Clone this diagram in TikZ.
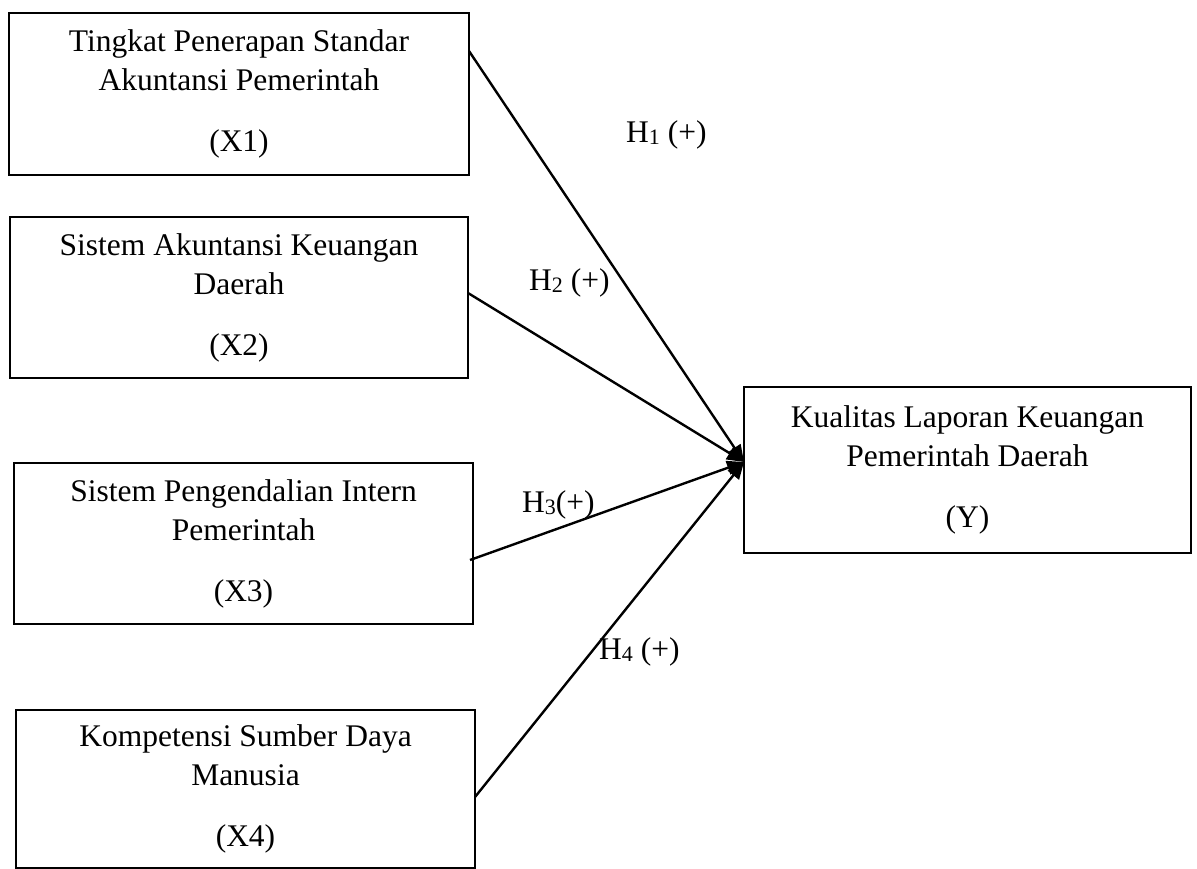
\documentclass[tikz,border=0pt]{standalone}
\usepackage{fontspec}
\setmainfont{Liberation Serif}
\usetikzlibrary{arrows.meta}
\newcommand{\hsub}[1]{\raisebox{-2.5pt}{\fontsize{22}{22}\selectfont #1}}
\tikzset{
  box/.style={draw, line width=2.4pt, rectangle, align=center, inner sep=0pt,
              font=\fontsize{31.5}{39}\selectfont},
  link/.style={line width=2.4pt, -{Triangle[length=17pt,width=14pt]}},
  hyp/.style={anchor=base west, inner sep=0pt, font=\fontsize{31.5}{39}\selectfont}
}
\begin{document}
\begin{tikzpicture}[x=1pt,y=-1pt]
\useasboundingbox (0,0) rectangle (1197,868);
\node[box, minimum width=460pt, minimum height=162pt] (x1) at (239,94)
  {Tingkat Penerapan Standar\\Akuntansi Pemerintah\\[22pt](X1)};
\node[box, minimum width=458pt, minimum height=161pt] (x2) at (239,297.5)
  {Sistem Akuntansi Keuangan\\Daerah\\[22pt](X2)};
\node[box, minimum width=459pt, minimum height=161pt] (x3) at (243.5,543.5)
  {Sistem Pengendalian Intern\\Pemerintah\\[22pt](X3)};
\node[box, minimum width=459pt, minimum height=158pt] (x4) at (245.5,789)
  {Kompetensi Sumber Daya\\Manusia\\[22pt](X4)};
\node[box, minimum width=447pt, minimum height=166pt] (y) at (967.5,470)
  {Kualitas Laporan Keuangan\\Pemerintah Daerah\\[22pt](Y)};

\coordinate (s1) at (469,51);
\coordinate (s2) at (468,293);
\coordinate (s3) at (470,560);
\coordinate (s4) at (475,797);
\coordinate (t) at (744,462);

\draw[link] (s1) -- (t);
\draw[link] (s2) -- (t);
\draw[link] (s3) -- (t);
\draw[link] (s4) -- (t);

\node[hyp] (h1) at (626,142) {H\hsub{1} (+)};
\node[hyp] (h2) at (529,290) {H\hsub{2} (+)};
\node[hyp] (h3) at (522,512) {H\hsub{3}(+)};
\node[hyp] (h4) at (599,659) {H\hsub{4} (+)};
\end{tikzpicture}
\end{document}
